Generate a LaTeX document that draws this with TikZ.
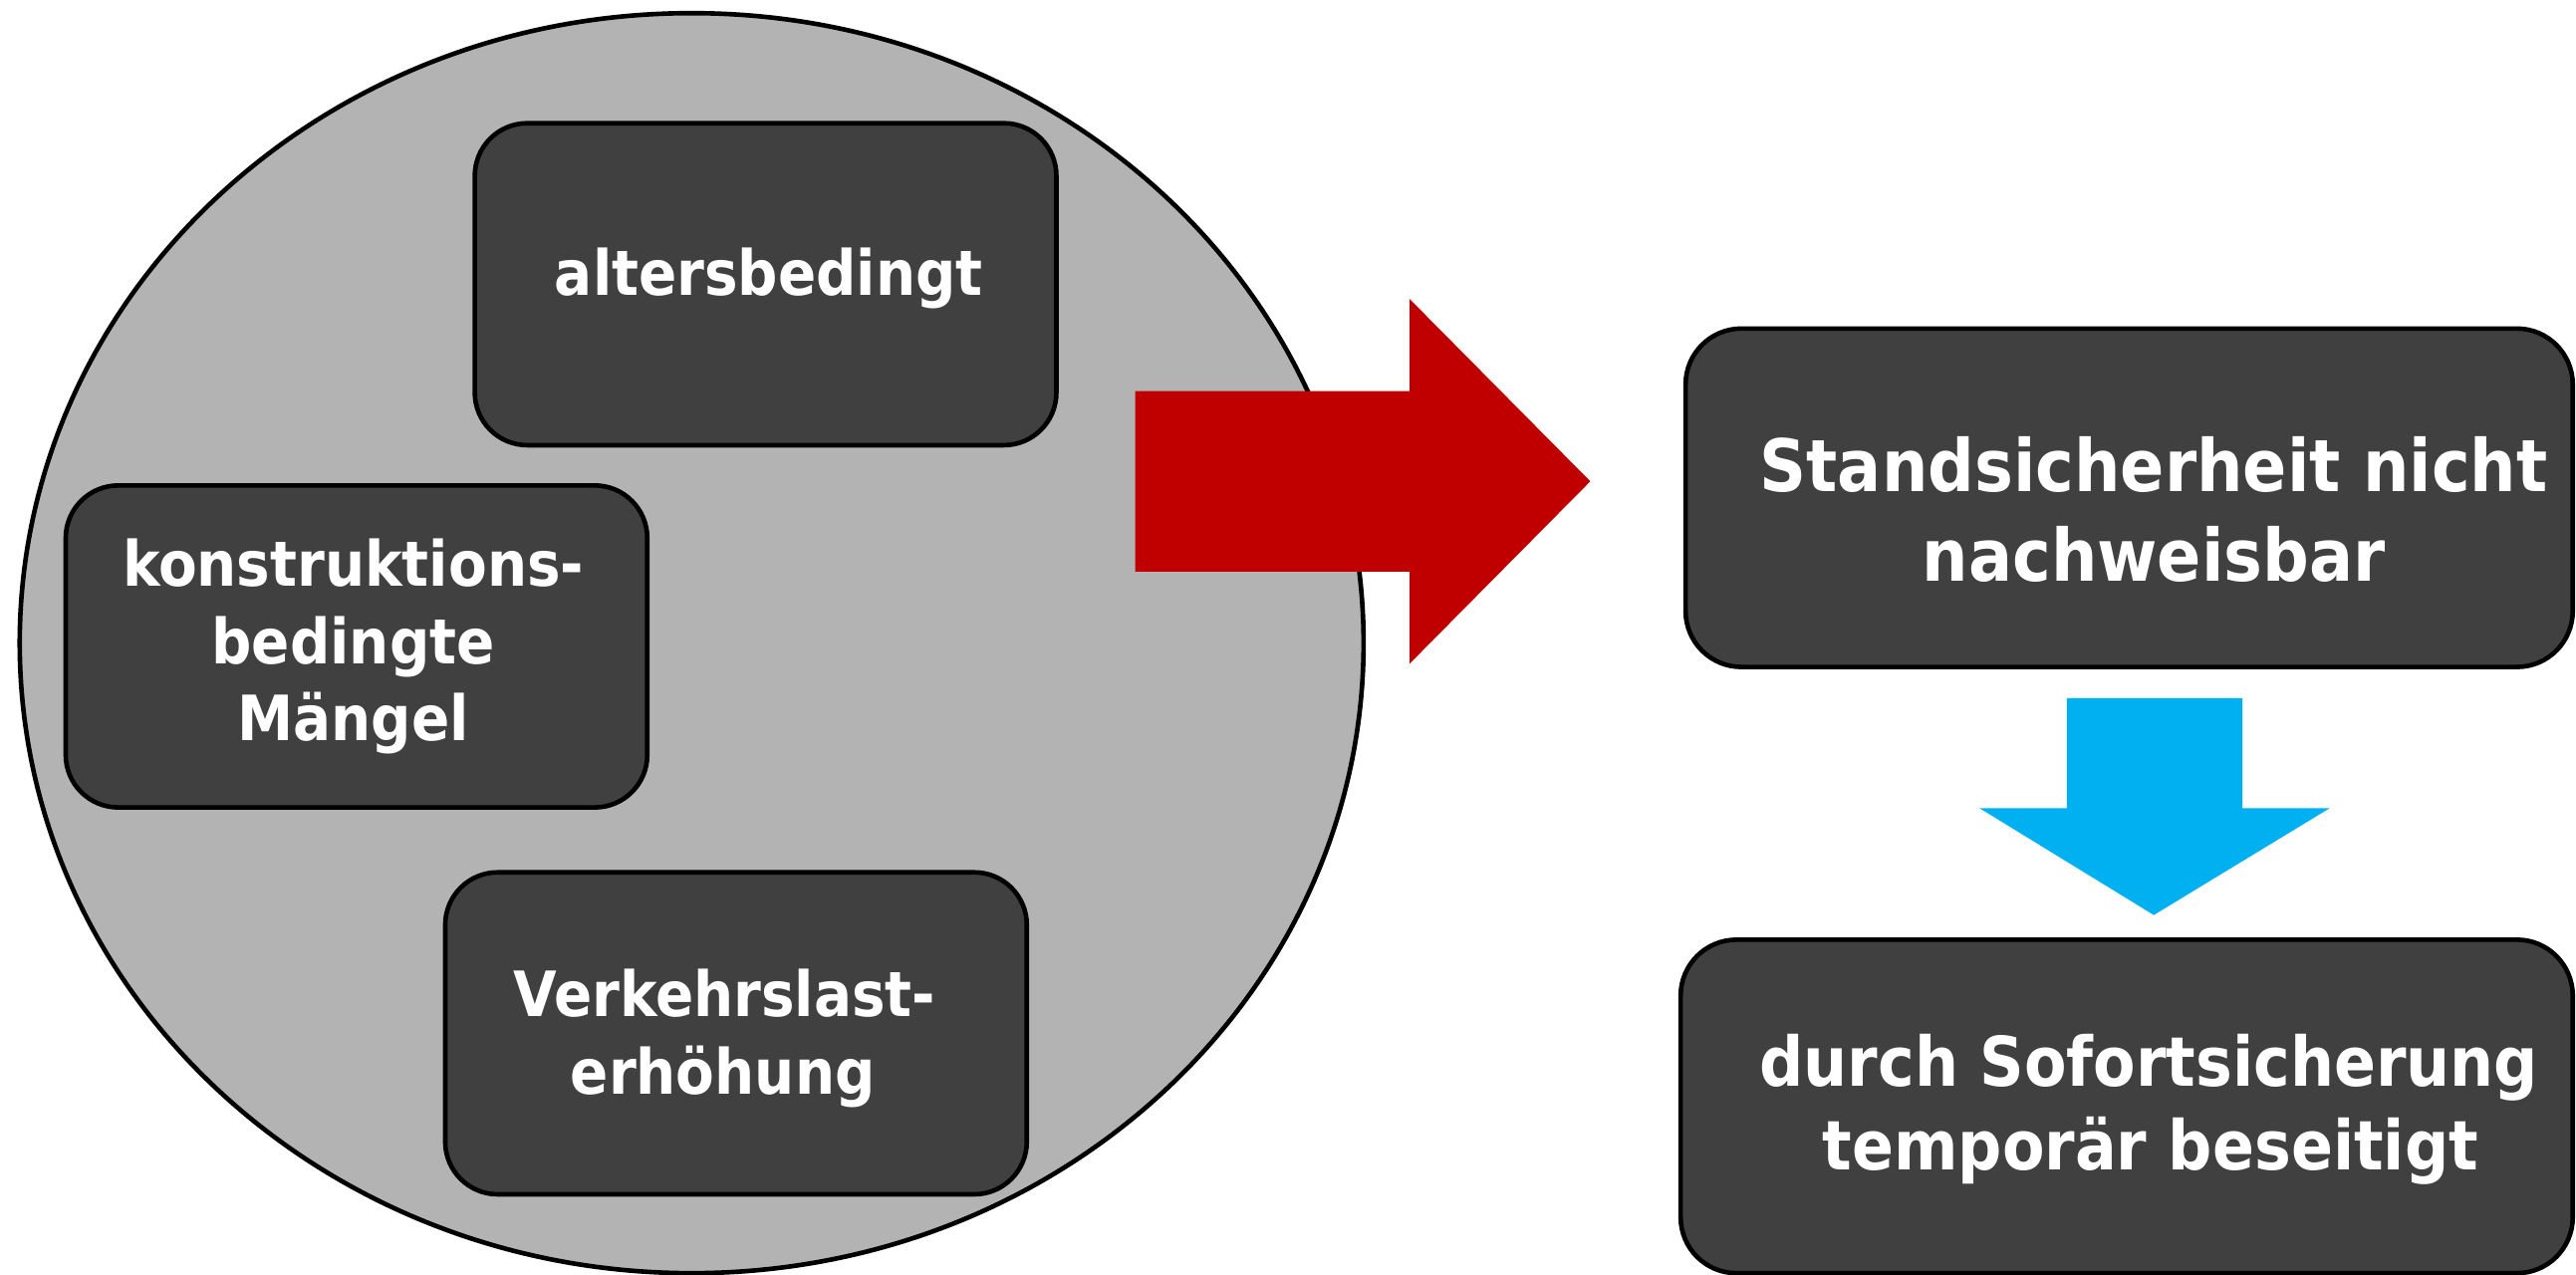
\documentclass[tikz,border=0pt]{standalone}
\usepackage{fontspec}
\newfontfamily\lblfont{DejaVu Sans}[FakeStretch=0.9]
\usetikzlibrary{shapes.geometric}
\definecolor{poolgray}{HTML}{B3B3B3}
\definecolor{boxgray}{HTML}{404040}
\definecolor{arrowred}{HTML}{C00000}
\definecolor{arrowblue}{HTML}{00B0F0}
\begin{document}
\begin{tikzpicture}[x=1pt,y=-1pt,
  box/.style={draw=black, line width=2.8pt, fill=boxgray, inner sep=0pt},
  leftbox/.style={box, rounded corners=32pt, minimum width=354pt, minimum height=196pt},
  rightbox/.style={box, rounded corners=34pt},
  smalltxt/.style={text=white, inner sep=0pt, anchor=base, font=\lblfont\bfseries\fontsize{38pt}{47pt}\selectfont},
  bigtxt/.style={text=white, inner sep=0pt, anchor=base, font=\lblfont\bfseries\fontsize{44pt}{53pt}\selectfont},
  midtxt/.style={text=white, inner sep=0pt, anchor=base, font=\lblfont\bfseries\fontsize{41.7pt}{51pt}\selectfont}]
\useasboundingbox (0,0) rectangle (1568,776);
% pool ellipse
\node[ellipse, draw=black, line width=2.8pt, fill=poolgray, inner sep=0pt,
      minimum width=818pt, minimum height=767pt] (pool) at (421,391.5) {};
% cause boxes
\node[leftbox] (alt) at (466,173) {};
\node[leftbox] (kon) at (217,393.5) {};
\node[leftbox] (ver) at (448,629) {};
% red arrow
\fill[arrowred] (691,238) -- (858,238) -- (858,182) -- (968,293) -- (858,404) -- (858,348) -- (691,348) -- cycle;
% result boxes
\node[rightbox, minimum width=540pt, minimum height=206pt] (stand) at (1296,303) {};
\node[rightbox, minimum width=543pt, minimum height=203pt] (sofort) at (1294.5,673.5) {};
% blue arrow
\fill[arrowblue] (1258,425) -- (1365,425) -- (1365,492) -- (1418,492) -- (1311,557) -- (1205,492) -- (1258,492) -- cycle;
% texts
\node[smalltxt] (altA) at (468,180) {altersbedingt};
\node[smalltxt] (konA) at (215,357) {konstruktions-};
\node[smalltxt] (konB) at (215,404) {bedingte};
\node[smalltxt] (konC) at (215,451) {Mängel};
\node[smalltxt] (verA) at (441,619) {Verkehrslast-};
\node[smalltxt] (verB) at (440,666) {erhöhung};
\node[bigtxt] (standA) at (1311,299) {Standsicherheit nicht};
\node[bigtxt] (standB) at (1311,354) {nachweisbar};
\node[midtxt] (sofA) at (1308,661) {durch Sofortsicherung};
\node[midtxt] (sofB) at (1309,712) {temporär beseitigt};
\end{tikzpicture}
\end{document}
